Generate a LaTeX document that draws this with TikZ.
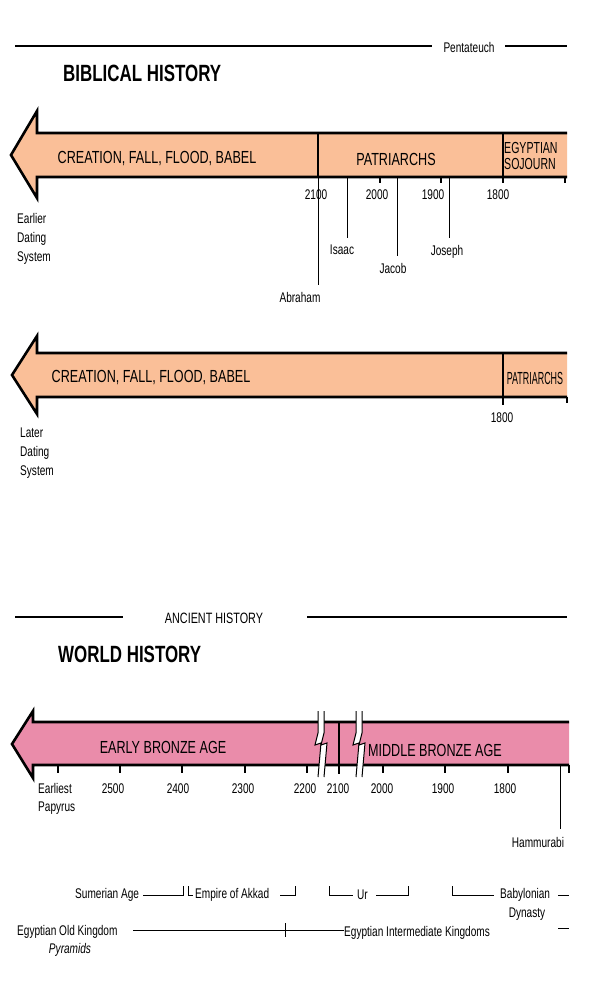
\documentclass[tikz,border=0pt]{standalone}
\usepackage{fontspec}
\setmainfont{Liberation Sans}[FakeStretch=0.72]
\newfontfamily\estreta{Liberation Sans}[FakeStretch=0.66]
\newfontfamily\mesestreta{Liberation Sans}[FakeStretch=0.51]

\definecolor{salmo}{RGB}{250,191,152}
\definecolor{rosa}{RGB}{234,140,170}

% Tall de l'eix (ziga-zaga)
\newcommand{\trenc}[1]{%
  \fill[white] (#1-2,711) -- (#1-2,733) -- (#1-5,745) -- (#1+1,743) -- (#1-2,777)
    -- (#1+4,777) -- (#1+7,743) -- (#1+1,745) -- (#1+4,733) -- (#1+4,711) -- cycle;
  \draw[line width=1pt] (#1-2,711) -- (#1-2,733) -- (#1-5,745) -- (#1+1,743) -- (#1-2,777);
  \draw[line width=1pt] (#1+4,711) -- (#1+4,733) -- (#1+1,745) -- (#1+7,743) -- (#1+4,777);
}

\begin{document}
\begin{tikzpicture}[
    x=1pt, y=-1pt,
    etiq/.style={font=\fontsize{14}{19}\selectfont, inner sep=0pt},
    gran/.style={font=\fontsize{17.5}{18}\selectfont, inner sep=0pt},
    titol/.style={font=\fontsize{23.5}{26}\selectfont\bfseries, inner sep=0pt, anchor=west},
    vora/.style={line width=2.6pt, line join=miter},
    regle/.style={line width=1.6pt},
    marca/.style={line width=1.3pt},
    fil/.style={line width=0.8pt}
]

\useasboundingbox (0,0) rectangle (600,1000);

% Capçalera
\node[etiq] (penta) at (469,47) {Pentateuch};
\draw[regle] (15,46) -- (432,46);
\draw[regle] (505,46) -- (567,46);
\node[titol] (biblica) at (63,73) {BIBLICAL HISTORY};

% Fletxa superior
\fill[salmo] (567,133) -- (37,133) -- (37,111) -- (11,155) -- (37,198) -- (37,177)
  -- (567,177) -- cycle;
\draw[vora] (567,133) -- (37,133) -- (37,111) -- (11,155) -- (37,198) -- (37,177)
  -- (567,177);
\draw[line width=2pt] (318,133) -- (318,177);
\draw[line width=2pt] (503,133) -- (503,183);
\foreach \x in {380,441,565}
  \draw[marca] (\x,177) -- (\x,183);

\node[gran] (creacio) at (157,159) {CREATION, FALL, FLOOD, BABEL};
\node[gran] (patri) at (396,159) {PATRIARCHS};
\node[gran, anchor=west, font=\fontsize{16}{16}\selectfont\estreta]
  (egipcia) at (504,148) {EGYPTIAN};
\node[gran, anchor=west, font=\fontsize{16}{16}\selectfont\estreta]
  (sojorn) at (504,164) {SOJOURN};

% Anys
\foreach \x/\any in {316/2100, 377/2000, 433/1900, 498/1800}
  \node[etiq] (a\any) at (\x,195) {\any};

% Patriarques
\coordinate (pabr) at (318,177);
\coordinate (pisa) at (347,177);
\coordinate (pjac) at (397,177);
\coordinate (pjos) at (449,177);
\node[etiq] (abraham) at (300,297) {Abraham};
\node[etiq] (isaac) at (342,250) {Isaac};
\node[etiq] (jacob) at (393,268) {Jacob};
\node[etiq] (joseph) at (447,252) {Joseph};
\draw[fil, shorten >=7pt] (pabr) -- (pabr |- abraham.north);
\draw[fil, shorten >=7pt] (pisa) -- (pisa |- isaac.north);
\draw[fil, shorten >=7pt] (pjac) -- (pjac |- jacob.north);
\draw[fil, shorten >=7pt] (pjos) -- (pjos |- joseph.north);

\node[etiq, anchor=north west, align=left] (anterior) at (17,213)
  {Earlier\\Dating\\System};

% Fletxa del mig
\fill[salmo] (567,353) -- (37,353) -- (37,336) -- (12,375) -- (37,414) -- (37,397)
  -- (567,397) -- cycle;
\draw[vora] (567,353) -- (37,353) -- (37,336) -- (12,375) -- (37,414) -- (37,397)
  -- (567,397);
\draw[line width=2pt] (503,353) -- (503,405);
\draw[marca] (567,397) -- (567,403);

\node[gran] (creacio2) at (151,378) {CREATION, FALL, FLOOD, BABEL};
\node[gran, font=\fontsize{17.5}{18}\selectfont\mesestreta] (patri2) at (535,378) {PATRIARCHS};
\node[etiq] (b1800) at (502,418) {1800};

\node[etiq, anchor=north west, align=left] (posterior) at (20,428)
  {Later\\Dating\\System};

% Història antiga
\node[etiq, font=\fontsize{15}{16}\selectfont] (antiga) at (214,618) {ANCIENT HISTORY};
\draw[regle] (15,617) -- (123,617);
\draw[line width=2pt] (307,617) -- (567,617);
\node[titol] (mon) at (58,654) {WORLD HISTORY};

% Fletxa inferior
\fill[rosa] (569,722) -- (33,722) -- (33,711) -- (12,744) -- (33,778) -- (33,765)
  -- (569,765) -- cycle;
\draw[vora] (569,722) -- (33,722) -- (33,711) -- (12,744) -- (33,778) -- (33,765)
  -- (569,765);
\draw[line width=2pt] (339,722) -- (339,774);
\foreach \x in {58,120,182,245,307,383,445,508,569}
  \draw[marca] (\x,765) -- (\x,773);

\trenc{320}
\trenc{358}

\node[gran] (antic) at (163,747) {EARLY BRONZE AGE};
\node[gran] (mitja) at (435,750) {MIDDLE BRONZE AGE};

\foreach \x/\any in {113/2500, 178/2400, 243/2300, 305/2200, 338/2100,
                     382/2000, 443/1900, 505/1800}
  \node[etiq] (c\any) at (\x,789) {\any};

\node[etiq, anchor=north west, align=left, font=\fontsize{14}{18}\selectfont]
  (papir) at (38,783) {Earliest\\Papyrus};

\coordinate (pham) at (560,765);
\node[etiq] (hammurabi) at (538,842) {Hammurabi};
\draw[fil, shorten >=8pt] (pham) -- (pham |- hammurabi.north);

% Períodes
\node[etiq, anchor=west] (sumer) at (75,895) {Sumerian Age};
\node[etiq, anchor=west] (akkad) at (195,895) {Empire of Akkad};
\node[etiq, anchor=west] (ur) at (357,895) {Ur};
\node[etiq, anchor=west] (babil) at (500,895) {Babylonian};
\node[etiq] (dinastia) at (527,914) {Dynasty};

\draw[fil] (sumer.east) ++(4,0) -- (183,895) -- (183,886);
\draw[fil] (188,886) -- (188,895) -- ([xshift=-2pt]akkad.west);
\draw[fil] (280,895) -- (295,895) -- (295,886);
\draw[fil] (329,886) -- (329,895) -- ([xshift=-4pt]ur.west);
\draw[fil] ([xshift=8pt]ur.east) -- (408,895) -- (408,886);
\draw[fil] (452,886) -- (452,895) -- ([xshift=-6pt]babil.west);
\draw[fil] (558,895) -- (569,895);

\node[etiq, anchor=west] (egipte) at (17,932) {Egyptian Old Kingdom};
\node[etiq, font=\fontsize{14}{15}\selectfont\itshape] (piramides) at (70,950) {Pyramids};
\node[etiq, anchor=west] (intermedi) at (344,933) {Egyptian Intermediate Kingdoms};
\coordinate (ovell) at (133,930);
\draw[fil] (ovell) -- (ovell -| intermedi.west);
\draw[fil] (285,923) -- (285,937);
\draw[fil] (558,928) -- (569,928);

\end{tikzpicture}
\end{document}
